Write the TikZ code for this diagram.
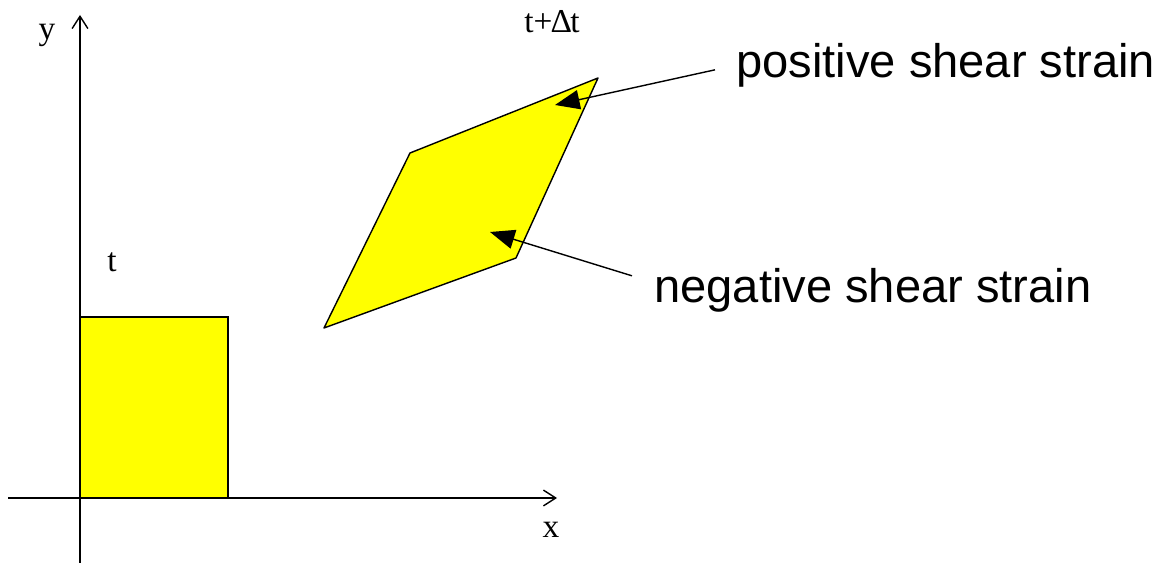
\documentclass[tikz,border=0pt]{standalone}
\usepackage{fontspec}
\setmainfont{Liberation Serif}
\newfontfamily\labelfont{Liberation Sans}
\usetikzlibrary{arrows.meta}
\definecolor{shapefill}{RGB}{255,255,0}

\begin{document}
\begin{tikzpicture}[
    x=0.02cm, y=-0.02cm,
    axis/.style={line width=0.8pt, -{Straight Barb[length=7pt,width=9pt]}},
    body/.style={draw, line width=0.8pt, fill=shapefill},
    axislabel/.style={font=\fontsize{19}{22}\selectfont, inner sep=0pt},
    caption/.style={font=\labelfont\fontsize{26.8}{31}\selectfont, inner sep=0pt},
    shear/.style={line width=0.8pt, -{Triangle[length=14pt,width=11pt]}}
]
\useasboundingbox (0,0) rectangle (1162,563);

\coordinate (o) at (80,498);
\coordinate (xend) at (557,498);
\coordinate (xstart) at (8,498);
\coordinate (yend) at (80,15);
\coordinate (ystart) at (80,563);

\coordinate (a) at (324,328);
\coordinate (b) at (410,153);
\coordinate (c) at (598,78);
\coordinate (d) at (516,258);

\coordinate (ptip) at (555,105);
\coordinate (ntip) at (490,232);

\draw[body] (o) rectangle (228,317);
\draw[body, line join=round] (a) -- (b) -- (c) -- (d) -- cycle;

\draw[axis] (xstart) -- (xend);
\draw[axis] (ystart) -- (yend);

\node[axislabel] (ylab) at (47,35) {y};
\node[axislabel] (xlab) at (551,530) {x};
\node[axislabel] (tlab) at (112,262) {t};
\node[axislabel] (tdlab) at (552,22) {t+\kern-1ptΔ\kern-1ptt};

\node[caption, anchor=base west] (pos) at (736,78) {positive shear strain};
\node[caption, anchor=base west] (neg) at (654,303) {negative shear strain};

\draw[shear] ([shift={(-21,4)}]pos.west) -- (ptip);
\draw[shear] ([shift={(-22,-15)}]neg.west) -- (ntip);

\end{tikzpicture}
\end{document}
